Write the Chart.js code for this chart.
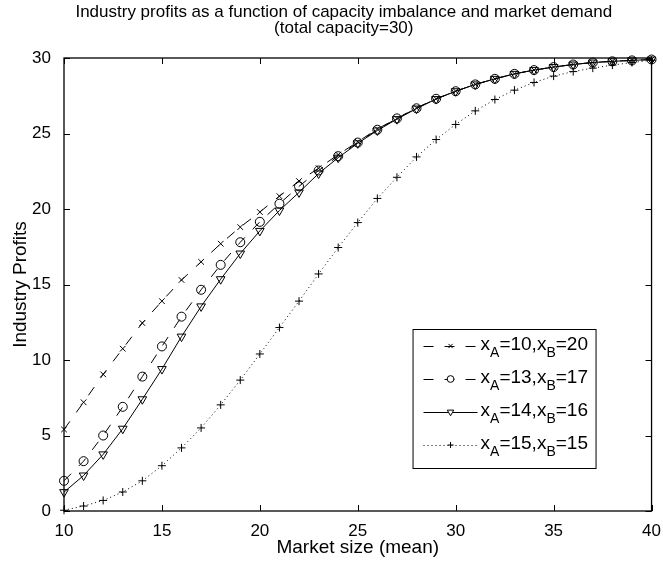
<!DOCTYPE html>
<html>
<head>
<meta charset="utf-8">
<style>
  html, body { margin: 0; padding: 0; background: #fff; }
  #wrap { width: 663px; height: 565px; }
</style>
<script src="https://cdn.jsdelivr.net/npm/chart.js@4.4.1/dist/chart.umd.min.js"></script>
</head>
<body>
<div id="wrap"><canvas id="profitChart" width="663" height="565"></canvas></div>
<script>
const marketSize = [10,11,12,13,14,15,16,17,18,19,20,21,22,23,24,25,26,27,28,29,30,31,32,33,34,35,36,37,38,39,40];
const profits10_20 = [5.4,7.2,9.05,10.75,12.45,13.9,15.3,16.5,17.7,18.8,19.8,20.85,21.85,22.7,23.6,24.45,25.3,26.0,26.7,27.3,27.8,28.25,28.62,28.95,29.2,29.4,29.57,29.7,29.78,29.84,29.9];
const profits13_17 = [2.0,3.3,5.0,6.9,8.9,10.9,12.87,14.65,16.3,17.8,19.15,20.35,21.5,22.55,23.5,24.4,25.25,26.0,26.67,27.3,27.8,28.25,28.62,28.95,29.2,29.4,29.57,29.7,29.78,29.84,29.9];
const profits14_16 = [1.25,2.35,3.75,5.45,7.4,9.4,11.55,13.55,15.35,17.05,18.55,19.9,21.1,22.35,23.4,24.35,25.2,25.95,26.65,27.28,27.8,28.25,28.62,28.95,29.2,29.4,29.57,29.7,29.78,29.84,29.9];
const profits15_15 = [0.05,0.33,0.7,1.26,2.0,3.0,4.18,5.5,7.03,8.67,10.4,12.15,13.9,15.7,17.45,19.1,20.7,22.1,23.45,24.6,25.6,26.5,27.25,27.87,28.38,28.8,29.1,29.33,29.53,29.7,29.85];
// legend labels: [main, subA, mid, subB, tail]
const seriesLabels = [
	['x','A','=10,x','B','=20'],
	['x','A','=13,x','B','=17'],
	['x','A','=14,x','B','=16'],
	['x','A','=15,x','B','=15']
];
const xTicks = [10,15,20,25,30,35,40];
const yTicks = [0,5,10,15,20,25,30];
const titleLines = ['Industry profits as a function of capacity imbalance and market demand','(total capacity=30)'];

const FONT = '"Liberation Sans", Arial, Helvetica, sans-serif';
const toPts = arr => arr.map((v,i)=>({x: marketSize[i], y: v}));

function series(data, style, dash, radius, rotation){
	return {
		data: toPts(data),
		borderColor: '#000',
		backgroundColor: 'rgba(0,0,0,0)',
		borderWidth: 1,
		borderDash: dash,
		pointStyle: style,
		pointRadius: radius,
		pointRotation: rotation || 0,
		pointBorderColor: '#000',
		pointBackgroundColor: 'rgba(0,0,0,0)',
		pointBorderWidth: 1,
		tension: 0,
		clip: false
	};
}

// two-line title, a bit left of the axes centre like the original
const topTitle = {
	id: 'topTitle',
	afterDraw(chart){
		const {ctx, chartArea: a} = chart;
		const cx = (a.left + a.right) / 2 - 14;
		ctx.save();
		ctx.fillStyle = '#000';
		ctx.font = '17px ' + FONT;
		ctx.textAlign = 'center';
		ctx.textBaseline = 'middle';
		titleLines.forEach((t, i)=> ctx.fillText(t, cx, 12 + i * 16.5));
		ctx.restore();
	}
};

// box with inward ticks on all four sides
const frame = {
	id: 'frame',
	afterDraw(chart){
		const {ctx, chartArea: a, scales: {x, y}} = chart;
		ctx.save();
		ctx.strokeStyle = '#000';
		ctx.lineWidth = 1.3;
		ctx.strokeRect(a.left, a.top, a.right - a.left, a.bottom - a.top);
		ctx.lineWidth = 1;
		const L = 6;
		ctx.beginPath();
		xTicks.forEach(v=>{
			const p = Math.round(x.getPixelForValue(v)) + 0.5;
			ctx.moveTo(p, a.bottom); ctx.lineTo(p, a.bottom - L);
			ctx.moveTo(p, a.top); ctx.lineTo(p, a.top + L);
		});
		yTicks.forEach(v=>{
			const p = Math.round(y.getPixelForValue(v)) + 0.5;
			ctx.moveTo(a.left, p); ctx.lineTo(a.left + L, p);
			ctx.moveTo(a.right, p); ctx.lineTo(a.right - L, p);
		});
		ctx.stroke();
		ctx.restore();
	}
};

// legend with subscripts, lower right of the axes
const subLegend = {
	id: 'subLegend',
	afterDraw(chart){
		const {ctx, chartArea: a} = chart;
		const bx = a.right - 239, by = a.top + 271, bw = 183, bh = 139;
		ctx.save();
		ctx.fillStyle = '#fff';
		ctx.fillRect(bx, by, bw, bh);
		ctx.strokeStyle = '#000';
		ctx.lineWidth = 1;
		ctx.strokeRect(bx + 0.5, by + 0.5, bw, bh);
		chart.data.datasets.forEach((ds, i)=>{
			const cy = by + 17 + i * 33;
			ctx.strokeStyle = '#000';
			ctx.lineWidth = 1;
			ctx.setLineDash(ds.borderDash || []);
			ctx.beginPath();
			ctx.moveTo(bx + 11, cy + 0.5);
			ctx.lineTo(bx + 65, cy + 0.5);
			ctx.stroke();
			ctx.setLineDash([]);
			ctx.fillStyle = '#fff';
			Chart.helpers.drawPoint(ctx, {
				pointStyle: ds.pointStyle,
				rotation: ds.pointRotation,
				radius: ds.pointRadius * 0.75,
				borderWidth: 1
			}, bx + 38, cy);
			// text with subscripts
			const parts = seriesLabels[i];
			let tx = bx + 68;
			ctx.fillStyle = '#000';
			ctx.textBaseline = 'alphabetic';
			parts.forEach((t, k)=>{
				const sub = k % 2 === 1;
				ctx.font = (sub ? '14px ' : '19px ') + FONT;
				ctx.fillText(t, tx, cy + (sub ? 11 : 4));
				tx += ctx.measureText(t).width;
			});
		});
		ctx.restore();
	}
};

new Chart(document.getElementById('profitChart'), {
	type: 'line',
	data: {
		datasets: [
			series(profits10_20, 'crossRot', [10,11], 4),
			series(profits13_17, 'circle', [10,11], 4.5),
			series(profits14_16, 'triangle', [], 5, 180),
			series(profits15_15, 'cross', [1,3], 4)
		]
	},
	options: {
		responsive: false,
		animation: false,
		devicePixelRatio: 1,
		layout: { padding: { left: 0, right: 11, top: 58, bottom: 0 } },
		plugins: {
			legend: { display: false },
			tooltip: { enabled: false },
			title: { display: false }
		},
		scales: {
			x: {
				type: 'linear',
				min: 10, max: 40,
				afterBuildTicks: s => { s.ticks = xTicks.map(v=>({value: v})); },
				afterFit: s => { s.height = 54; },
				grid: { display: false },
				border: { display: false },
				ticks: { color: '#000', font: { family: FONT, size: 17 }, padding: 2, maxRotation: 0 },
				title: { display: true, text: 'Market size (mean)', color: '#000', font: { family: FONT, size: 19 }, padding: { top: 0, bottom: 6 } }
			},
			y: {
				min: 0, max: 30,
				afterBuildTicks: s => { s.ticks = yTicks.map(v=>({value: v})); },
				afterFit: s => { s.width = 64; },
				grid: { display: false },
				border: { display: false },
				ticks: { color: '#000', font: { family: FONT, size: 17 }, padding: 5 },
				title: { display: true, text: 'Industry Profits', color: '#000', font: { family: FONT, size: 19 }, padding: { top: 9, bottom: 0 } }
			}
		}
	},
	plugins: [topTitle, frame, subLegend]
});
</script>
</body>
</html>
